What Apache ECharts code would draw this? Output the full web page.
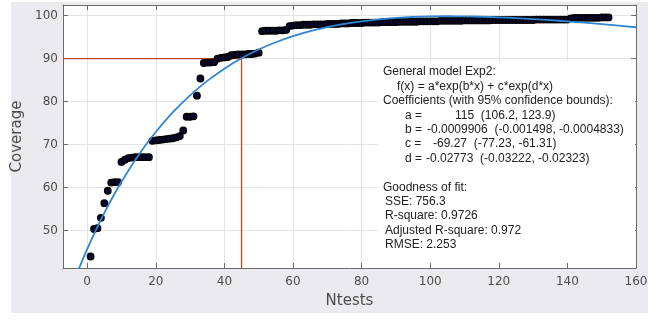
<!DOCTYPE html>
<html><head><meta charset="utf-8">
<script src="https://cdn.jsdelivr.net/npm/echarts@6/dist/echarts.min.js"></script>
<style>html,body{margin:0;padding:0;background:#fff}#c{width:658px;height:322px}</style>
</head><body><div id="c"></div>
<script>
// Coverage measured after each test (test number = index + 1)
const coverage = [
  44.0, 50.4, 50.6, 53.0, 56.4, 59.3, 61.2, 61.3, 61.3, 66.0,
  66.5, 66.9, 67.0, 67.1, 67.1, 67.1, 67.1, 67.1, 70.9, 71.0,
  71.1, 71.2, 71.3, 71.4, 71.5, 71.7, 72.0, 73.3, 76.5, 76.5,
  76.6, 81.4, 85.4, 89.0, 89.1, 89.1, 89.2, 90.0, 90.2, 90.3,
  90.4, 90.8, 90.9, 91.0, 91.0, 91.0, 91.1, 91.1, 91.2, 91.4,
  96.4, 96.5, 96.5, 96.5, 96.5, 96.6, 96.6, 96.7, 97.6, 97.7,
  97.8, 97.8, 97.9, 97.9, 97.9, 98.0, 98.0, 98.0, 98.0, 98.1,
  98.1, 98.1, 98.1, 98.2, 98.2, 98.2, 98.3, 98.3, 98.3, 98.3,
  98.4, 98.4, 98.4, 98.4, 98.4, 98.5, 98.5, 98.5, 98.5, 98.5,
  98.6, 98.6, 98.6, 98.6, 98.6, 98.6, 98.7, 98.7, 98.7, 98.7,
  98.7, 98.7, 98.8, 98.8, 98.8, 98.8, 98.8, 98.8, 98.8, 98.9,
  98.9, 98.9, 98.9, 98.9, 98.9, 98.9, 98.9, 99.0, 99.0, 99.0,
  99.0, 99.0, 99.0, 99.0, 99.0, 99.0, 99.0, 99.0, 99.0, 99.0,
  99.1, 99.1, 99.1, 99.1, 99.1, 99.1, 99.1, 99.1, 99.1, 99.1,
  99.4, 99.5, 99.5, 99.5, 99.5, 99.5, 99.5, 99.5, 99.5, 99.6,
  99.6, 99.6
];
// Fitted Exp2 curve
const fitX = [-3, 0, 2.5, 5, 7.5, 10, 12.5, 15, 17.5, 20, 25, 30, 35, 40, 45, 50, 55, 60, 65, 70, 75, 80, 85, 90, 95, 100, 105, 110, 115, 120, 125, 130, 135, 140, 145, 150, 155, 160];
const fitY = [40.06, 45.73, 50.09, 54.13, 57.89, 61.37, 64.61, 67.61, 70.39, 72.96, 77.56, 81.48, 84.84, 87.69, 90.10, 92.13, 93.83, 95.24, 96.41, 97.35, 98.11, 98.70, 99.15, 99.48, 99.70, 99.83, 99.87, 99.85, 99.76, 99.63, 99.44, 99.22, 98.97, 98.68, 98.37, 98.04, 97.69, 97.32];
const targetCoverage = 90;
const targetTests = 45;
const xRange = [-7.05, 160];
const yRange = [41.33, 102.49];
const xTickLabels = [0, 20, 40, 60, 80, 100, 120, 140, 160];
const yTickLabels = [50, 60, 70, 80, 90, 100];
const fitInfo = [
  ['General model Exp2:'],
  ['f(x) = a*exp(b*x) + c*exp(d*x)'],
  ['Coefficients (with 95% confidence bounds):'],
  ['a =', '115  (106.2, 123.9)'],
  ['b =', '-0.0009906  (-0.001498, -0.0004833)'],
  ['c =', '-69.27  (-77.23, -61.31)'],
  ['d =', '-0.02773  (-0.03222, -0.02323)'],
  [''],
  ['Goodness of fit:'],
  ['SSE: 756.3'],
  ['R-square: 0.9726'],
  ['Adjusted R-square: 0.972'],
  ['RMSE: 2.253']
];

// ---- layout ----
const lineX = [383, 397, 383, 405, 405, 405, 405, 383, 383, 385, 385, 385, 385];
const valueX = [0, 0, 0, 455, 427, 433, 426];
const axisColor = '#6b6b6b';
const labelColor = '#4d4d4d';

const scatterData = coverage.map((v, i) => [i + 1, v]);
const fitData = fitX.map((x, i) => [x, fitY[i]]);
const refData = [[xRange[0], targetCoverage], [targetTests, targetCoverage], [targetTests, yRange[0]]];

const textEls = [];
fitInfo.forEach((parts, i) => {
  const y = 72 + i * 14.4;
  textEls.push({type: 'text', z: 3, style: {text: parts[0], x: lineX[i], y: y, fill: '#222222',
    font: '12px "Liberation Sans", Arial, sans-serif', textVerticalAlign: 'middle'}});
  if (parts[1]) {
    textEls.push({type: 'text', z: 3, style: {text: parts[1], x: valueX[i], y: y, fill: '#222222',
      font: '12px "Liberation Sans", Arial, sans-serif', textVerticalAlign: 'middle'}});
  }
});

const axisLineStyle = {show: true, onZero: false, lineStyle: {color: axisColor, width: 1}};
const tickStyle = {show: true, inside: true, length: 5, lineStyle: {color: axisColor}};
const labelFont = {color: labelColor, fontFamily: 'DejaVu Sans', fontSize: 12};

const option = {
  animation: false,
  backgroundColor: '#ffffff',
  grid: {left: 63, right: 22, top: 5, bottom: 54, show: true, backgroundColor: '#ffffff', borderWidth: 0},
  graphic: [
    {type: 'rect', z: -10, shape: {x: 11, y: 2, width: 637, height: 311}, style: {fill: '#ebeaef'}},
    {type: 'rect', z: 1, shape: {x: 378, y: 61, width: 257, height: 202}, style: {fill: '#ffffff'}},
    ...textEls
  ],
  xAxis: [
    {type: 'value', min: xRange[0], max: xRange[1], splitNumber: 8, position: 'bottom',
     axisLine: axisLineStyle, axisTick: tickStyle,
     axisLabel: Object.assign({showMinLabel: false, margin: 8,
       formatter: v => xTickLabels.includes(v) ? String(v) : ''}, labelFont),
     splitLine: {show: true, lineStyle: {color: '#e4e4e4'}},
     name: 'Ntests', nameLocation: 'middle', nameGap: 26,
     nameTextStyle: {color: labelColor, fontFamily: 'DejaVu Sans', fontSize: 15}},
    {type: 'value', min: xRange[0], max: xRange[1], splitNumber: 8, position: 'top',
     axisLine: axisLineStyle, axisTick: tickStyle, axisLabel: {show: false}, splitLine: {show: false}}
  ],
  yAxis: [
    {type: 'value', min: yRange[0], max: yRange[1], splitNumber: 6, position: 'left',
     axisLine: axisLineStyle, axisTick: tickStyle,
     axisLabel: Object.assign({showMinLabel: false, showMaxLabel: false, margin: 5,
       formatter: v => yTickLabels.includes(v) ? String(v) : ''}, labelFont),
     splitLine: {show: true, lineStyle: {color: '#e4e4e4'}},
     name: 'Coverage', nameLocation: 'middle', nameGap: 36,
     nameTextStyle: {color: labelColor, fontFamily: 'DejaVu Sans', fontSize: 15}},
    {type: 'value', min: yRange[0], max: yRange[1], splitNumber: 6, position: 'right',
     axisLine: axisLineStyle, axisTick: tickStyle, axisLabel: {show: false}, splitLine: {show: false}}
  ],
  series: [
    {type: 'line', data: refData, showSymbol: false, symbol: 'none', z: 2,
     lineStyle: {color: '#c0461c', width: 1.3}},
    {type: 'scatter', data: scatterData, symbol: 'circle', symbolSize: 6.5, z: 3,
     itemStyle: {color: '#080830', borderColor: '#000000', borderWidth: 1.3, opacity: 1}},
    {type: 'line', data: fitData, showSymbol: false, symbol: 'none', smooth: 0.3, z: 4,
     lineStyle: {color: '#2f86d1', width: 1.8}}
  ]
};

const chart = echarts.init(document.getElementById('c'), null, {renderer: 'canvas'});
chart.setOption(option);
</script>
</body></html>
